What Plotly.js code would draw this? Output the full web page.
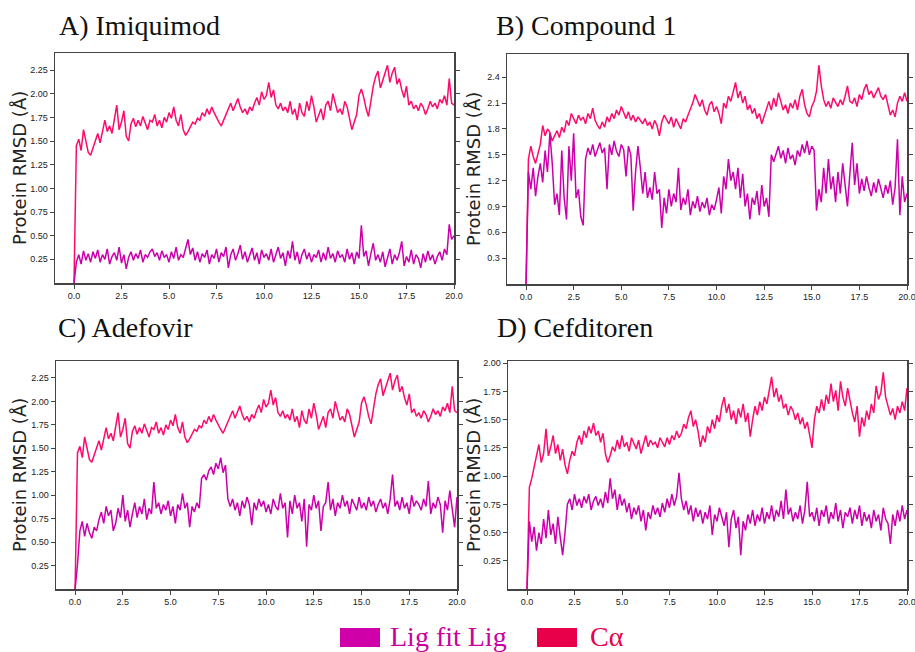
<!DOCTYPE html>
<html>
<head>
<meta charset="utf-8">
<script src="https://cdn.plot.ly/plotly-3.0.1.min.js"></script>
<style>html,body{margin:0;padding:0;background:#fff;}#chart{width:915px;height:652px;}</style>
</head>
<body>
<div id="chart"></div>
<script>
// ---- Data (RMSD in Å, sampled every 0.125 ns from 0 to 20 ns) ----
const panelTitles = ["A) Imiquimod", "B) Compound 1", "C) Adefovir", "D) Cefditoren"];
const seriesNames = ["Lig fit Lig", "Cα"];
const xTickVals = [0, 2.5, 5, 7.5, 10, 12.5, 15, 17.5, 20];

const caImiquimod = [0,
 1.45,1.52,1.40,1.62,1.48,1.38,1.35,1.42,
 1.50,1.58,1.48,1.62,1.72,1.60,1.66,1.58,
 1.75,1.88,1.62,1.70,1.82,1.55,1.50,1.68,
 1.74,1.65,1.72,1.66,1.76,1.68,1.62,1.72,
 1.70,1.78,1.66,1.72,1.64,1.75,1.70,1.80,
 1.74,1.86,1.72,1.66,1.78,1.62,1.56,1.60,
 1.66,1.70,1.68,1.74,1.72,1.80,1.76,1.84,
 1.78,1.86,1.80,1.74,1.70,1.66,1.72,1.78,
 1.84,1.90,1.82,1.88,1.95,1.86,1.80,1.84,
 1.78,1.86,1.82,1.90,1.96,1.88,2.02,1.94,
 1.98,2.12,1.96,2.04,1.88,1.84,1.90,1.82,
 1.86,1.80,1.92,1.78,1.84,1.72,1.90,1.80,
 1.76,1.92,1.82,1.98,1.86,1.70,1.78,1.84,
 1.72,1.88,1.92,1.82,2.00,1.90,1.80,1.84,
 1.78,1.92,1.86,1.74,1.62,1.70,1.78,1.98,
 2.05,1.96,1.84,1.76,1.92,2.08,2.18,2.24,
 2.06,2.14,2.20,2.30,2.12,2.22,2.28,2.10,
 2.16,2.04,1.96,2.08,1.88,1.92,1.84,1.88,
 1.82,1.90,1.86,1.78,1.84,1.92,1.86,1.90,
 1.84,1.94,1.90,1.98,1.88,2.16,1.90,1.88];

const ligImiquimod = [0,
 0.22,0.30,0.20,0.34,0.24,0.31,0.22,0.33,
 0.26,0.35,0.22,0.30,0.25,0.36,0.20,0.28,
 0.32,0.24,0.38,0.21,0.30,0.15,0.27,0.33,
 0.24,0.31,0.26,0.35,0.22,0.30,0.27,0.33,
 0.36,0.28,0.32,0.24,0.34,0.27,0.30,0.22,
 0.33,0.26,0.38,0.24,0.30,0.27,0.36,0.46,
 0.30,0.37,0.24,0.33,0.22,0.31,0.27,0.35,
 0.20,0.30,0.26,0.36,0.22,0.32,0.28,0.38,
 0.16,0.30,0.36,0.24,0.31,0.40,0.25,0.33,
 0.22,0.30,0.37,0.24,0.32,0.20,0.35,0.27,
 0.31,0.24,0.36,0.22,0.30,0.38,0.26,0.32,
 0.18,0.34,0.26,0.44,0.24,0.33,0.20,0.30,
 0.36,0.25,0.32,0.22,0.30,0.27,0.35,0.22,
 0.32,0.24,0.38,0.26,0.31,0.22,0.34,0.27,
 0.30,0.22,0.36,0.25,0.32,0.20,0.33,0.26,
 0.61,0.28,0.34,0.18,0.31,0.42,0.24,0.30,
 0.22,0.33,0.17,0.28,0.36,0.20,0.30,0.24,
 0.32,0.44,0.18,0.28,0.22,0.35,0.20,0.30,
 0.26,0.16,0.31,0.22,0.34,0.24,0.30,0.20,
 0.28,0.33,0.24,0.36,0.30,0.62,0.46,0.50];

const caCompound1 = [0,
 1.45,1.60,1.48,1.40,1.52,1.62,1.84,1.72,
 1.80,1.76,1.66,1.72,1.78,1.70,1.82,1.76,
 1.90,1.84,1.98,1.92,1.86,1.96,1.90,1.94,
 1.86,1.98,1.92,2.04,1.90,1.84,1.80,1.88,
 1.82,1.94,1.88,1.98,1.92,2.02,1.96,2.06,
 1.98,1.92,2.00,1.90,1.96,1.88,1.94,1.90,
 1.86,1.92,1.84,1.88,1.80,1.90,1.84,1.72,
 1.88,1.96,1.90,1.86,1.94,1.82,1.92,1.86,
 1.80,1.92,1.88,1.96,2.02,2.10,2.20,2.12,
 2.06,2.14,2.02,1.96,2.08,2.12,2.00,2.06,
 1.98,1.86,2.10,2.04,2.18,2.12,2.22,2.34,
 2.16,2.24,2.10,2.18,2.02,2.08,1.98,2.04,
 1.92,1.98,1.86,1.94,2.04,2.12,2.02,2.16,
 2.06,2.22,2.12,2.02,2.08,1.98,2.10,2.04,
 2.14,2.02,2.18,2.26,2.08,1.98,1.94,2.06,
 2.12,2.24,2.54,2.30,2.14,2.06,2.12,2.04,
 2.16,2.10,2.06,2.14,2.08,2.18,2.30,2.12,
 2.10,2.16,2.06,2.20,2.14,2.26,2.32,2.20,
 2.24,2.16,2.22,2.28,2.18,2.14,2.20,2.08,
 1.96,2.02,1.94,2.10,2.18,2.12,2.22,2.12];

const ligCompound1 = [0,
 1.30,1.10,1.35,1.02,1.25,1.40,1.18,1.55,
 1.30,1.75,1.40,0.92,1.05,0.80,1.55,1.00,
 0.75,1.60,1.20,1.75,1.00,1.10,0.78,0.68,
 1.45,1.58,1.50,1.62,1.48,1.56,1.64,1.52,
 1.58,1.10,1.62,1.50,1.66,1.54,1.48,1.62,
 1.56,1.25,1.60,1.50,0.85,1.30,1.60,1.35,
 1.05,1.30,1.00,1.12,0.98,1.30,1.05,1.10,
 0.65,1.00,0.82,1.10,0.90,1.05,0.95,1.35,
 0.86,1.00,0.92,1.10,0.80,0.96,0.88,1.02,
 0.84,0.95,0.88,1.00,0.80,0.92,0.86,0.98,
 1.12,0.82,1.25,1.10,1.45,1.20,1.30,1.10,
 1.35,1.00,1.28,0.90,1.05,0.75,1.00,0.92,
 1.08,0.80,1.15,0.90,1.00,0.78,1.50,1.42,
 1.52,1.60,1.46,1.55,1.40,1.58,1.45,1.50,
 1.38,1.55,1.48,1.62,1.52,1.66,1.50,1.60,
 1.55,0.85,1.10,0.95,1.35,1.05,1.45,1.10,
 1.25,0.95,1.30,1.05,1.40,1.12,0.90,1.28,
 1.64,1.15,1.40,1.05,1.22,1.08,1.25,1.12,
 1.02,1.18,1.06,1.22,1.10,1.00,1.15,1.05,
 1.20,0.92,1.12,1.68,0.80,1.25,0.95,1.05];

const caAdefovir = caImiquimod.slice();

const ligAdefovir = [0,
 0.26,0.62,0.72,0.56,0.70,0.60,0.54,0.66,
 0.62,0.74,0.82,0.70,0.88,0.78,0.84,0.62,
 0.70,0.86,0.76,1.00,0.72,0.84,0.66,0.80,
 0.92,0.76,0.88,0.80,0.96,0.74,0.86,0.80,
 1.14,0.86,0.92,0.80,0.90,0.84,0.94,0.78,
 0.88,0.70,0.90,0.84,1.02,0.86,0.92,0.66,
 0.88,0.82,0.92,0.86,1.18,1.22,1.16,1.26,
 1.30,1.22,1.34,1.28,1.40,1.24,1.32,0.96,
 0.88,0.96,0.84,0.92,0.78,0.94,0.86,0.98,
 0.90,0.68,0.92,0.84,0.96,0.88,0.94,0.82,
 0.90,0.80,0.96,0.88,0.84,1.02,0.86,0.92,
 0.55,0.94,0.80,1.00,0.86,0.92,0.72,0.96,
 0.45,0.90,0.84,1.00,0.86,0.94,0.62,0.88,
 0.92,1.14,0.84,0.96,0.78,0.92,0.86,1.00,
 0.88,0.94,0.80,0.96,0.90,0.84,0.98,0.86,
 0.92,0.84,0.98,0.88,0.94,0.82,0.90,0.96,
 0.86,0.92,0.80,0.96,1.22,0.88,0.94,0.84,
 0.98,0.86,0.92,0.80,1.00,0.88,0.94,0.90,
 0.84,0.96,0.88,1.15,0.80,0.92,0.86,0.98,
 0.90,0.60,0.94,0.84,1.05,0.88,0.66,0.98];

const caCefditoren = [0,
 0.90,0.98,1.08,1.15,1.28,1.12,1.20,1.42,
 1.18,1.26,1.36,1.20,1.28,1.14,1.24,1.10,
 1.02,1.14,1.22,1.18,1.30,1.36,1.28,1.40,
 1.34,1.44,1.38,1.47,1.36,1.40,1.30,1.38,
 1.20,1.12,1.18,1.26,1.22,1.32,1.24,1.36,
 1.26,1.30,1.22,1.34,1.28,1.24,1.32,1.20,
 1.28,1.36,1.26,1.32,1.28,1.30,1.25,1.34,
 1.30,1.26,1.34,1.28,1.36,1.32,1.40,1.34,
 1.38,1.46,1.42,1.52,1.58,1.44,1.50,1.40,
 1.26,1.36,1.30,1.44,1.38,1.50,1.42,1.54,
 1.48,1.62,1.70,1.56,1.64,1.50,1.58,1.46,
 1.60,1.52,1.64,1.48,1.56,1.35,1.50,1.62,
 1.54,1.66,1.58,1.70,1.64,1.76,1.88,1.70,
 1.78,1.66,1.72,1.60,1.64,1.54,1.62,1.58,
 1.50,1.56,1.46,1.52,1.42,1.48,1.36,1.25,
 1.50,1.62,1.56,1.68,1.58,1.72,1.64,1.82,
 1.66,1.76,1.58,1.84,1.70,1.62,1.78,1.66,
 1.56,1.48,1.62,1.35,1.52,1.44,1.58,1.50,
 1.64,1.56,1.80,1.68,1.74,1.92,1.70,1.62,
 1.54,1.60,1.50,1.62,1.56,1.66,1.58,1.78];

const ligCefditoren = [0,
 0.60,0.42,0.55,0.34,0.50,0.40,0.62,0.45,
 0.70,0.48,0.58,0.40,0.64,0.46,0.30,0.50,
 0.75,0.80,0.70,0.84,0.74,0.80,0.72,0.82,
 0.76,0.84,0.70,0.78,0.82,0.74,0.80,0.72,
 0.86,0.76,0.98,0.80,0.88,0.70,0.84,0.74,
 0.80,0.68,0.76,0.62,0.72,0.66,0.74,0.60,
 0.70,0.52,0.68,0.62,0.74,0.66,0.72,0.64,
 0.76,0.68,0.80,0.72,0.84,0.74,0.82,1.03,
 0.80,0.70,0.78,0.66,0.74,0.60,0.72,0.64,
 0.70,0.58,0.68,0.62,0.74,0.48,0.66,0.60,
 0.72,0.64,0.56,0.68,0.37,0.62,0.70,0.54,
 0.64,0.30,0.60,0.52,0.66,0.58,0.70,0.56,
 0.66,0.60,0.72,0.58,0.68,0.62,0.74,0.60,
 0.70,0.64,0.78,0.62,0.88,0.66,0.72,0.60,
 0.68,0.62,0.74,0.58,0.70,0.95,0.64,0.68,
 0.60,0.72,0.56,0.70,0.64,0.74,0.58,0.68,
 0.62,0.76,0.60,0.70,0.54,0.68,0.64,0.72,
 0.58,0.70,0.62,0.74,0.56,0.68,0.60,0.66,
 0.54,0.70,0.60,0.66,0.52,0.72,0.62,0.58,
 0.40,0.66,0.56,0.70,0.60,0.74,0.62,0.70];

const yTicksA = [0.25,0.50,0.75,1.00,1.25,1.50,1.75,2.00,2.25];
const yTicksB = [0.3,0.6,0.9,1.2,1.5,1.8,2.1,2.4];
const yTicksC = [0.25,0.50,0.75,1.00,1.25,1.50,1.75,2.00,2.25];
const yTicksD = [0.25,0.50,0.75,1.00,1.25,1.50,1.75,2.00];

// ---- Build ----
const W = 915, H = 652;
const LIG_COLOR = '#cc00aa', CA_COLOR = '#ff0a6c';
const time = caImiquimod.map((_, i) => i * 20 / (caImiquimod.length - 1));

const panels = [
  {ca: caImiquimod, lig: ligImiquimod, ticks: yTicksA, fmt: '.2f', yr: [0, 2.43], box: [55, 454, 53, 283]},
  {ca: caCompound1, lig: ligCompound1, ticks: yTicksB, fmt: '.1f', yr: [0, 2.67], box: [507, 907, 54, 284]},
  {ca: caAdefovir, lig: ligAdefovir, ticks: yTicksC, fmt: '.2f', yr: [0, 2.43], box: [56, 457, 361, 589]},
  {ca: caCefditoren, lig: ligCefditoren, ticks: yTicksD, fmt: '.2f', yr: [0, 2.02], box: [508, 907, 361, 589]}
];
const titlePos = [[57, 26], [494, 26], [56, 327], [495, 327]];
const yTitleX = [19, 474, 19, 473];

const traces = [];
const layout = {
  width: W, height: H,
  margin: {l: 0, r: 0, t: 0, b: 0},
  paper_bgcolor: '#fff', plot_bgcolor: '#fff',
  showlegend: false,
  annotations: [], shapes: []
};
const tickFont = {family: 'Liberation Sans, Arial, sans-serif', size: 9, color: '#222'};

panels.forEach((p, k) => {
  const s = k === 0 ? '' : String(k + 1);
  traces.push({x: time, y: p.ca, type: 'scatter', mode: 'lines', name: seriesNames[1],
    line: {color: CA_COLOR, width: 1.5}, xaxis: 'x' + s, yaxis: 'y' + s});
  traces.push({x: time, y: p.lig, type: 'scatter', mode: 'lines', name: seriesNames[0],
    line: {color: LIG_COLOR, width: 1.5}, xaxis: 'x' + s, yaxis: 'y' + s});
  const [x0, x1, y0, y1] = p.box;
  layout['xaxis' + s] = {
    domain: [x0 / W, x1 / W], anchor: 'y' + s, range: [-1, 20],
    tickvals: xTickVals, tickformat: '.1f', ticks: 'outside', ticklen: 4, tickcolor: '#444',
    showline: true, linecolor: '#444', linewidth: 1.5, mirror: true, ticklabeloverflow: 'allow',
    showgrid: false, zeroline: false, tickfont: tickFont, fixedrange: true
  };
  layout['yaxis' + s] = {
    domain: [1 - y1 / H, 1 - y0 / H], anchor: 'x' + s, range: p.yr,
    tickvals: p.ticks, tickformat: p.fmt, ticks: 'outside', ticklen: 4, tickcolor: '#444',
    showline: true, linecolor: '#444', linewidth: 1.5, mirror: 'ticks',
    showgrid: false, zeroline: false, tickfont: tickFont, fixedrange: true
  };
  layout.annotations.push({
    text: panelTitles[k], xref: 'paper', yref: 'paper',
    x: titlePos[k][0] / W, y: 1 - titlePos[k][1] / H, xanchor: 'left', yanchor: 'middle',
    showarrow: false, font: {family: 'Liberation Serif, Times New Roman, serif', size: 28, color: '#111'}
  });
  layout.annotations.push({
    text: 'Protein RMSD (Å)', xref: 'paper', yref: 'paper', textangle: -90,
    x: yTitleX[k] / W, y: 1 - ((y0 + y1) / 2) / H, xanchor: 'center', yanchor: 'middle',
    showarrow: false, font: {family: 'DejaVu Sans, sans-serif', size: 18, color: '#222'}
  });
});

// Legend (drawn at the bottom, as in the figure)
const legendItems = [
  {name: seriesNames[0], box: [340, 380], textX: 388, fill: '#d000a8', textColor: '#c800a0'},
  {name: seriesNames[1], box: [537, 577], textX: 588, fill: '#e8004a', textColor: '#e8004a'}
];
legendItems.forEach(it => {
  layout.shapes.push({type: 'rect', xref: 'paper', yref: 'paper',
    x0: it.box[0] / W, x1: it.box[1] / W, y0: 1 - 647 / H, y1: 1 - 628 / H,
    fillcolor: it.fill, line: {width: 0}});
  layout.annotations.push({text: it.name, xref: 'paper', yref: 'paper',
    x: it.textX / W, y: 1 - 636 / H, xanchor: 'left', yanchor: 'middle', showarrow: false,
    font: {family: 'Liberation Serif, Times New Roman, serif', size: 28, color: it.textColor}});
});

Plotly.newPlot('chart', traces, layout, {displayModeBar: false, staticPlot: true});
</script>
</body>
</html>
